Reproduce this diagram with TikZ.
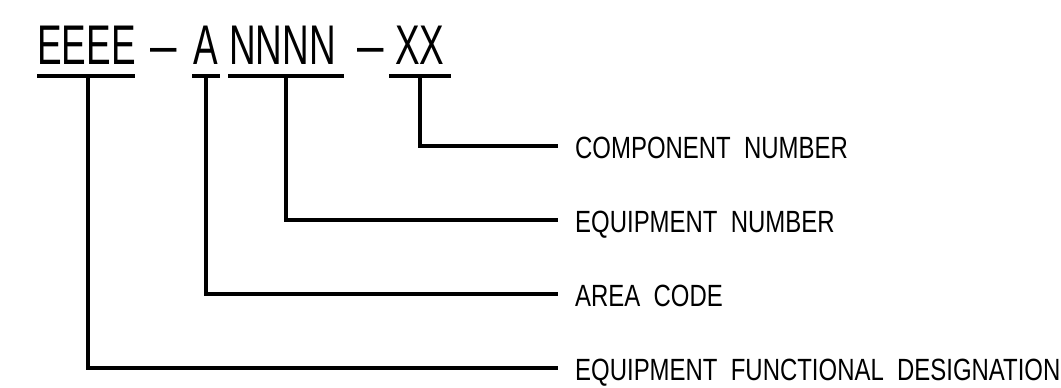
\documentclass[tikz,border=0pt]{standalone}
\usepackage{fontspec}
\newfontfamily\codefont[FakeStretch=0.66]{Liberation Sans}
\newfontfamily\dashfont[FakeStretch=0.85]{Liberation Sans}
\newfontfamily\lblfontface[FakeStretch=0.78]{Liberation Sans}
\begin{document}
\begin{tikzpicture}[x=1pt,y=-1pt]
\useasboundingbox (0,0) rectangle (1061,388);
\tikzset{
  code/.style={font=\codefont\fontsize{55.9}{60}\selectfont, inner sep=0, anchor=base west},
  codedash/.style={font=\dashfont\fontsize{55.9}{60}\selectfont, inner sep=0, anchor=base west},
  lbl/.style={font=\lblfontface\fontsize{30.7}{34}\selectfont, inner sep=0, anchor=base west},
  lead/.style={line width=4pt, line cap=butt, line join=miter},
  uline/.style={line width=4pt, line cap=butt}
}
% code string
\node[code] (e)  at (37,64)  {EEEE};
\node[codedash] (d1) at (150,64) {–};
\node[code] (a)  at (193,64) {A};
\node[code] (n)  at (229,64) {NNNN};
\node[codedash] (d2) at (357,64) {–};
\node[code] (x)  at (395,64) {XX};
% underlines
\draw[uline] (37,75.5) -- (135,75.5);
\draw[uline] (192,75.5) -- (220,75.5);
\draw[uline] (228,75.5) -- (344,75.5);
\draw[uline] (389,75.5) -- (451,75.5);
% labels
\node[lbl] (l1) at (575,158) {COMPONENT\ \ NUMBER};
\node[lbl] (l2) at (575,232) {EQUIPMENT\ \ NUMBER};
\node[lbl] (l3) at (575,306) {AREA\ \ CODE};
\node[lbl] (l4) at (575,380) {EQUIPMENT\ \ FUNCTIONAL\ \ DESIGNATION};
% leader start points
\coordinate (sx) at (420,75.5);
\coordinate (sn) at (286,75.5);
\coordinate (sa) at (206,75.5);
\coordinate (se) at (88,75.5);
\coordinate (t1) at (558,146);
\coordinate (t2) at (558,220);
\coordinate (t3) at (558,294);
\coordinate (t4) at (558,368);
\draw[lead] (sx) |- (t1);
\draw[lead] (sn) |- (t2);
\draw[lead] (sa) |- (t3);
\draw[lead] (se) |- (t4);
\end{tikzpicture}
\end{document}
